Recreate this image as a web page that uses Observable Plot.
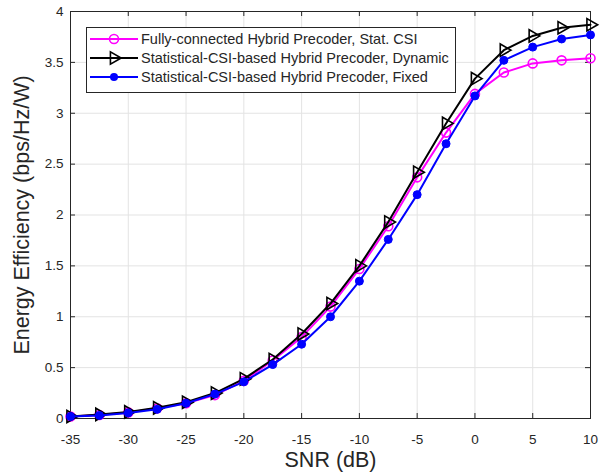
<!DOCTYPE html>
<html><head><meta charset="utf-8">
<script src="https://cdn.jsdelivr.net/npm/d3@7"></script>
<script src="https://cdn.jsdelivr.net/npm/@observablehq/plot@0.6"></script>
<style>
body{margin:0;background:#fff;}
#wrap{position:relative;width:603px;height:473px;font-family:"Liberation Sans",Arial,sans-serif;}
#legend{position:absolute;left:86px;top:27px;}
</style></head><body><div id="wrap"></div>
<script>
const snr = [-35,-32.5,-30,-27.5,-25,-22.5,-20,-17.5,-15,-12.5,-10,-7.5,-5,-2.5,0,2.5,5,7.5,10];
const fullyConnected = [0.02,0.035,0.06,0.1,0.15,0.23,0.37,0.57,0.8,1.1,1.47,1.89,2.37,2.81,3.19,3.4,3.49,3.52,3.54];
const dynamicPrecoder = [0.02,0.04,0.065,0.105,0.16,0.25,0.39,0.58,0.83,1.13,1.5,1.93,2.42,2.9,3.34,3.62,3.76,3.84,3.87];
const fixedPrecoder = [0.02,0.03,0.055,0.09,0.15,0.24,0.36,0.53,0.73,1.0,1.35,1.76,2.2,2.7,3.17,3.52,3.65,3.73,3.77];
const seriesNames = ["Fully-connected Hybrid Precoder, Stat. CSI","Statistical-CSI-based Hybrid Precoder, Dynamic","Statistical-CSI-based Hybrid Precoder, Fixed"];
const seriesColors = ["#ff00ff","#000000","#0000ff"];
const xTicks = [-35,-30,-25,-20,-15,-10,-5,0,5,10];
const yTicks = [0,0.5,1,1.5,2,2.5,3,3.5,4];
const xLabel = "SNR (dB)";
const yLabel = "Energy Efficiency (bps/Hz/W)";

const rows = (vals) => snr.map((x,i)=>({x, y: vals[i]}));
const dM = rows(fullyConnected), dD = rows(dynamicPrecoder), dF = rows(fixedPrecoder);
const W = 603, H = 473, mL = 70, mR = 13, mT = 11, mB = 55;
const ph = H - mT - mB, pw = W - mL - mR, tk = 5;
const axisColor = "#262626";
const gridColor = "#e3e3e3";

const chart = Plot.plot({
  width: W, height: H,
  marginLeft: mL, marginRight: mR, marginTop: mT, marginBottom: mB,
  style: {fontFamily: "'Liberation Sans', Arial, sans-serif", fontSize: "13.5px", color: axisColor, background: "#fff"},
  x: {domain: [-35, 10]},
  y: {domain: [0, 4]},
  marks: [
    Plot.gridX(xTicks, {stroke: gridColor, strokeOpacity: 1}),
    Plot.gridY(yTicks, {stroke: gridColor, strokeOpacity: 1}),
    Plot.axisX(xTicks, {tickSize: 0, tickPadding: 16, tickFormat: d => String(d), label: null, fill: axisColor}),
    Plot.axisY(yTicks, {tickSize: 0, tickPadding: 7, tickFormat: d => String(d), label: null, fill: axisColor}),
    Plot.ruleX(xTicks, {x: d => d, insetTop: ph - tk, stroke: axisColor}),
    Plot.ruleX(xTicks, {x: d => d, insetBottom: ph - tk, stroke: axisColor}),
    Plot.ruleY(yTicks, {y: d => d, insetRight: pw - tk, stroke: axisColor}),
    Plot.ruleY(yTicks, {y: d => d, insetLeft: pw - tk, stroke: axisColor}),
    Plot.frame({stroke: axisColor}),
    Plot.line(dM, {x: "x", y: "y", stroke: seriesColors[0], strokeWidth: 2}),
    Plot.dot(dM, {x: "x", y: "y", r: 4.5, stroke: seriesColors[0], strokeWidth: 1.6, fill: "none"}),
    Plot.line(dD, {x: "x", y: "y", stroke: seriesColors[1], strokeWidth: 2}),
    Plot.dot(dD, {x: "x", y: "y", symbol: "triangle", rotate: 90, r: 4.6, stroke: seriesColors[1], strokeWidth: 1.6, fill: "none"}),
    Plot.line(dF, {x: "x", y: "y", stroke: seriesColors[2], strokeWidth: 2}),
    Plot.dot(dF, {x: "x", y: "y", r: 4, stroke: seriesColors[2], strokeWidth: 1, fill: seriesColors[2]}),
    Plot.text([xLabel], {text: d => d, frameAnchor: "bottom", lineAnchor: "middle", textAnchor: "middle", dy: 42, fontSize: 21.5, fill: axisColor}),
    Plot.text([yLabel], {text: d => d, frameAnchor: "left", lineAnchor: "middle", textAnchor: "middle", rotate: -90, dx: -48, fontSize: 21.5, fill: axisColor})
  ]
});
const wrap = document.getElementById("wrap");
wrap.appendChild(chart);

// legend
const lg = d3.select(wrap).append("svg").attr("id","legend").attr("width", 370).attr("height", 66)
  .style("font-family", "'Liberation Sans', Arial, sans-serif");
lg.append("rect").attr("x",0.5).attr("y",0.5).attr("width",369).attr("height",65).attr("fill","#fff").attr("stroke",axisColor);
seriesNames.forEach((name,i) => {
  const cy = 12 + i*19;
  const g = lg.append("g");
  g.append("line").attr("x1",4).attr("x2",52).attr("y1",cy).attr("y2",cy).attr("stroke",seriesColors[i]).attr("stroke-width",2);
  if (i === 0) g.append("circle").attr("cx",28).attr("cy",cy).attr("r",4.5).attr("fill","none").attr("stroke",seriesColors[i]).attr("stroke-width",1.6);
  if (i === 1) g.append("path").attr("d", d3.symbol(d3.symbolTriangle, 4.6*4.6*Math.PI)()).attr("transform",`translate(28,${cy}) rotate(90)`).attr("fill","none").attr("stroke",seriesColors[i]).attr("stroke-width",1.6);
  if (i === 2) g.append("circle").attr("cx",28).attr("cy",cy).attr("r",4).attr("fill",seriesColors[i]);
  g.append("text").attr("x",55).attr("y",cy).attr("dy","0.35em").attr("font-size","14.5px").attr("fill",axisColor).text(name);
});
</script></body></html>
